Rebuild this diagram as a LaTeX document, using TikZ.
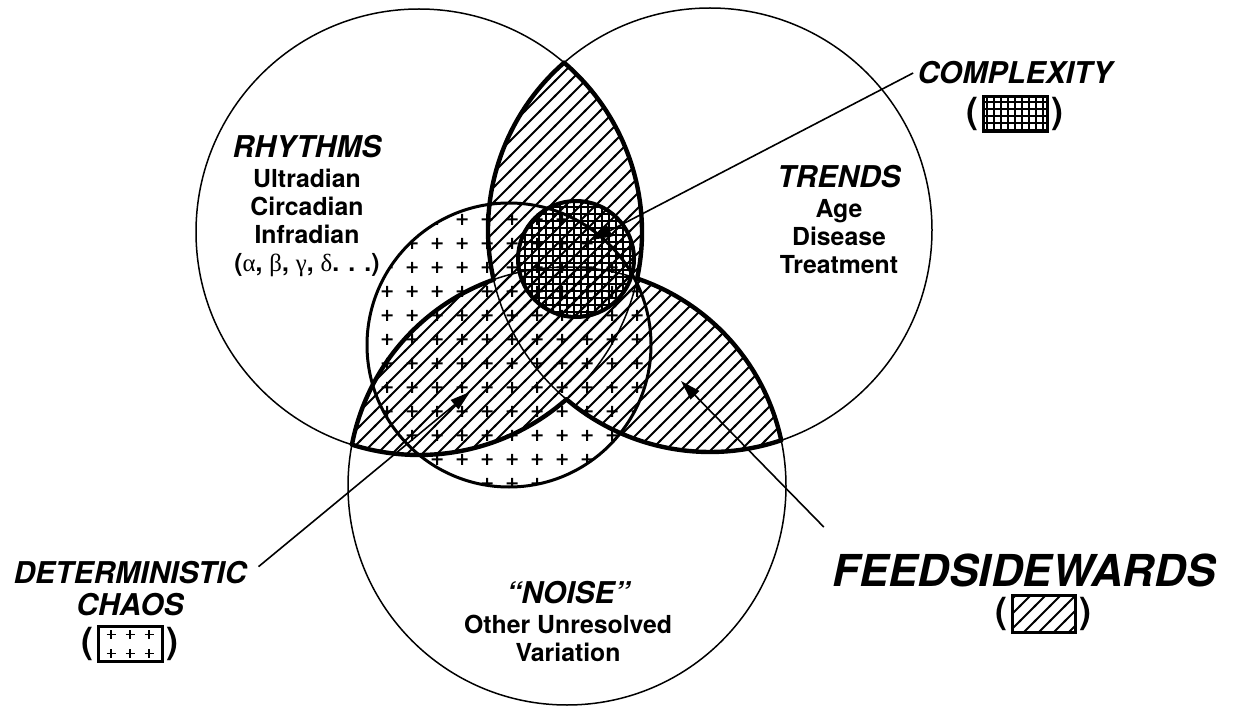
\documentclass[tikz,border=0pt]{standalone}
\usepackage{fontspec}
\setmainfont{TeX Gyre Heros}
\newfontfamily\grk{Liberation Serif}
\usetikzlibrary{arrows.meta,positioning,patterns}

\pgfdeclarepatternformonly{fsw lines}{\pgfqpoint{-1pt}{-1pt}}{\pgfqpoint{8.5pt}{8.5pt}}{\pgfqpoint{7.5pt}{7.5pt}}{%
  \pgfsetlinewidth{1pt}
  \pgfpathmoveto{\pgfqpoint{-0.5pt}{-0.5pt}}
  \pgfpathlineto{\pgfqpoint{8pt}{8pt}}
  \pgfusepath{stroke}}
\pgfdeclarepatternformonly{chaos plus}{\pgfqpoint{0pt}{0pt}}{\pgfqpoint{12.5pt}{12pt}}{\pgfqpoint{12.5pt}{12pt}}{%
  \pgfsetlinewidth{1pt}
  \pgfpathmoveto{\pgfqpoint{3.4pt}{6pt}}\pgfpathlineto{\pgfqpoint{9.1pt}{6pt}}
  \pgfpathmoveto{\pgfqpoint{6.25pt}{3.15pt}}\pgfpathlineto{\pgfqpoint{6.25pt}{8.85pt}}
  \pgfusepath{stroke}}
\pgfdeclarepatternformonly{cplx grid}{\pgfqpoint{-0.5pt}{-0.5pt}}{\pgfqpoint{3.5pt}{3.5pt}}{\pgfqpoint{3.5pt}{3.5pt}}{%
  \pgfsetlinewidth{0.7pt}
  \pgfpathmoveto{\pgfqpoint{0pt}{0pt}}\pgfpathlineto{\pgfqpoint{3.6pt}{0pt}}
  \pgfpathmoveto{\pgfqpoint{0pt}{0pt}}\pgfpathlineto{\pgfqpoint{0pt}{3.6pt}}
  \pgfusepath{stroke}}

\tikzset{
  thinc/.style={line width=0.75pt},
  lens/.style={line width=2.2pt, line cap=round},
  hd/.style={font=\fontsize{15}{17}\selectfont\bfseries\itshape, inner sep=2pt},
  bd/.style={font=\fontsize{12.4}{14}\selectfont\bfseries, align=center, inner sep=2pt},
  ptr/.style={-{Triangle[length=10pt,width=6pt]}, line width=0.8pt},
  lgbox/.style={draw, line width=1.5pt, minimum width=32pt, minimum height=17.5pt, inner sep=0pt},
  paren/.style={font=\fontsize{18}{20}\selectfont\bfseries, inner sep=0pt},
  pl/.style={line width=0.9pt},
}

\begin{document}
\begin{tikzpicture}[x=0.5pt,y=-0.5pt]
  \useasboundingbox (0,0) rectangle (1237,711);
  \coordinate (cL) at (419,232);
  \coordinate (cR) at (710,230);
  \coordinate (cB) at (567,486);
  \coordinate (cC) at (509,345);
  \coordinate (cX) at (576,259);

  % patterned regions
  \fill[pattern=chaos plus] (cC) circle[radius=142];
  \begin{scope}
    \clip (cL) circle[radius=223];
    \fill[pattern=fsw lines] (cR) circle[radius=222];
    \fill[pattern=fsw lines] (cB) circle[radius=219];
  \end{scope}
  \begin{scope}
    \clip (cR) circle[radius=222];
    \fill[pattern=fsw lines] (cB) circle[radius=219];
  \end{scope}
  \fill[pattern=cplx grid] (cX) circle[radius=58];

  % outlines
  \draw[thinc] (cL) circle[radius=223] (cR) circle[radius=222] (cB) circle[radius=219];
  \draw[line width=1.5pt] (cC) circle[radius=142];
  \draw[lens] (cL) ++(-49.4:223) arc[start angle=-49.4, end angle=12.0, radius=223];
  \draw[lens] (cL) ++(48.6:223) arc[start angle=48.6, end angle=107.5, radius=223];
  \draw[lens] (cR) ++(167.1:222) arc[start angle=167.1, end angle=228.9, radius=222];
  \draw[lens] (cR) ++(71.3:222) arc[start angle=71.3, end angle=130.3, radius=222];
  \draw[lens] (cB) ++(190.9:219) arc[start angle=190.9, end angle=250.4, radius=219];
  \draw[lens] (cB) ++(288.7:219) arc[start angle=288.7, end angle=348.0, radius=219];
  \draw[line width=2pt] (cX) circle[radius=58];

  % circle labels
  \node[hd] (rhy) at (307,147) {RHYTHMS};
  \node[bd, below=1pt of rhy] (rhyl) {Ultradian\\Circadian\\Infradian\\({\grk\mdseries α}, {\grk\mdseries β}, {\grk\mdseries γ}, {\grk\mdseries δ}. . .)};
  \node[hd] (trd) at (839,177) {TRENDS};
  \node[bd, below=1pt of trd] (trdl) {Age\\Disease\\Treatment};
  \node[hd] (noi) at (568,593) {“NOISE”};
  \node[bd, below=1pt of noi] (noil) {Other Unresolved\\Variation};

  % legends
  \node[hd] (cpx) at (1015,73) {COMPLEXITY};
  \node[lgbox, pattern=cplx grid, below=3pt of cpx] (cpxbox) {};
  \node[paren, left=1.5pt of cpxbox] (cpxl) {(};
  \node[paren, right=1.5pt of cpxbox] (cpxr) {)};

  \node[hd] (det) at (130,573) {DETERMINISTIC};
  \node[hd, below=0pt of det] (chs) {CHAOS};
  \node[lgbox, below=2.5pt of chs] (chsbox) {};
  \foreach \i in {-1,0,1}
    \foreach \j in {-1,1}
      \draw[pl] (chsbox) ++(\i*19,\j*9.5) +(-4.5,0) -- +(4.5,0) +(0,-4.5) -- +(0,4.5);
  \node[paren, left=1.5pt of chsbox] (chsl) {(};
  \node[paren, right=1.5pt of chsbox] (chsr) {)};

  \node[font=\fontsize{22}{24}\selectfont\bfseries\itshape, inner sep=2pt] (fsw) at (1024,570) {FEEDSIDEWARDS};
  \node[lgbox, pattern=fsw lines, minimum width=31.5pt, minimum height=18.5pt, below=1.5pt of fsw, xshift=9.75pt] (fswbox) {};
  \node[paren, left=1.5pt of fswbox] (fswl) {(};
  \node[paren, right=1.5pt of fswbox] (fswr) {)};

  % pointers
  \coordinate (cpxtip) at (592,240);
  \coordinate (chstip) at (470,392);
  \coordinate (fswtip) at (681,381);
  \draw[ptr] (cpx.west) -- (cpxtip);
  \draw[ptr, shorten <=5pt] (det.east) -- (chstip);
  \draw[ptr] ([shift={(-4,-22)}]fsw.north west) -- (fswtip);
\end{tikzpicture}
\end{document}
